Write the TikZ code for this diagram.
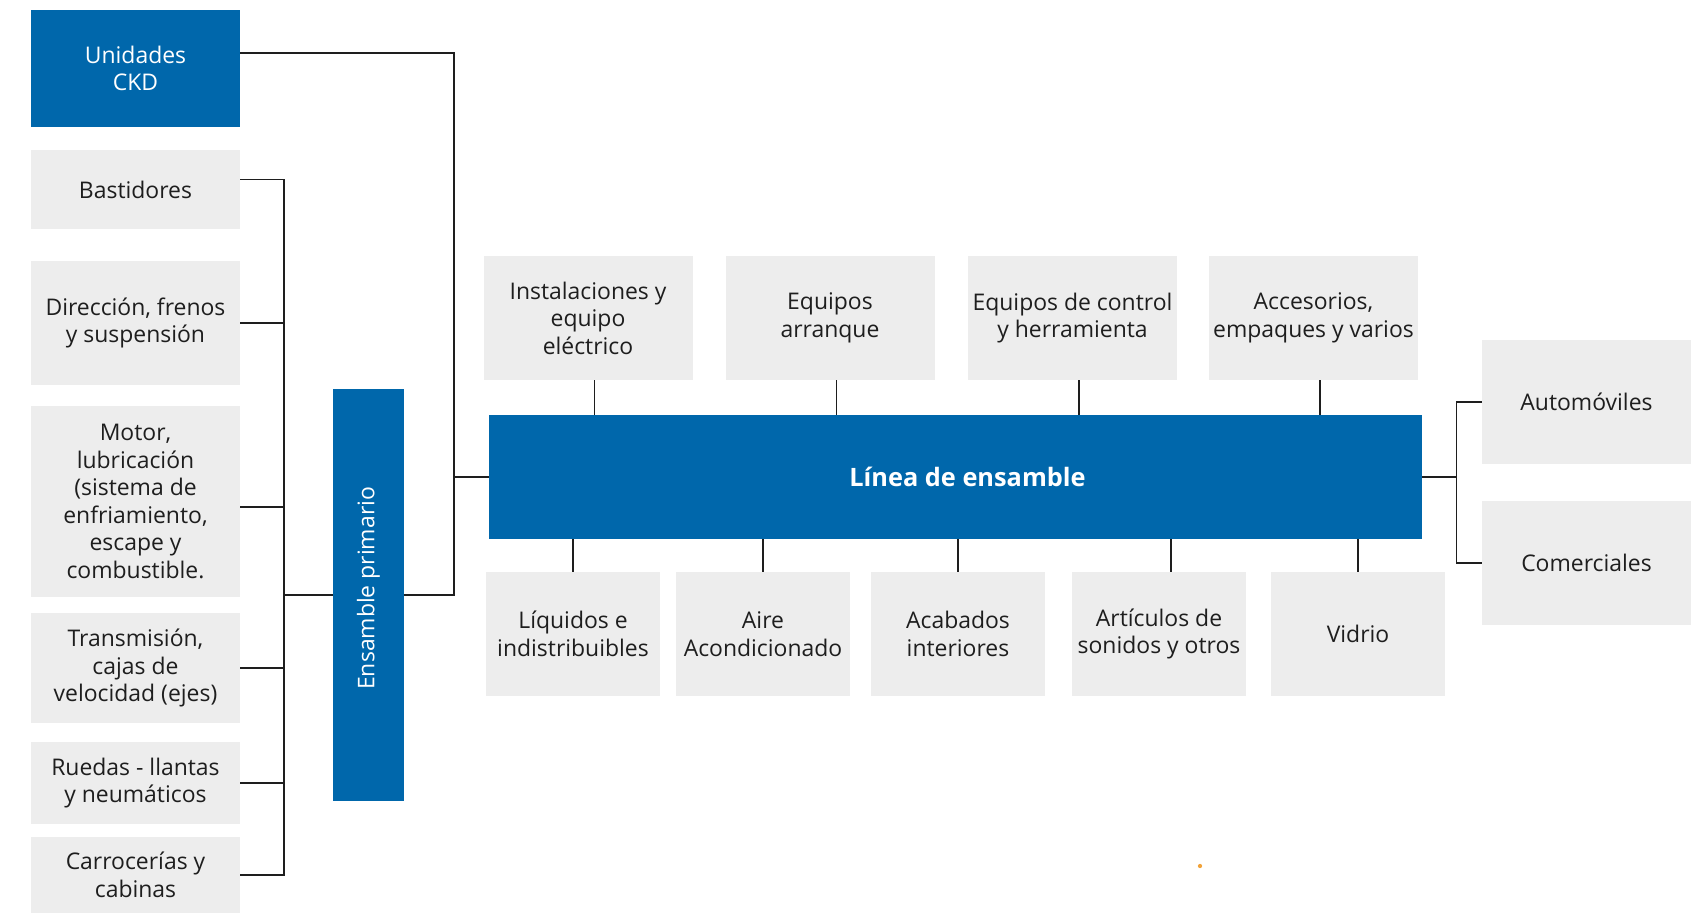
\documentclass[tikz,border=0pt]{standalone}
\usepackage{fontspec}
\setmainfont{Open Sans}
\definecolor{azul}{HTML}{0067AB}
\definecolor{gris}{HTML}{EDEDED}
\definecolor{tinta}{HTML}{1E1E1E}
\definecolor{naranja}{HTML}{F2A33A}
\tikzset{
  caja/.style={fill=gris, text=tinta, align=center, inner sep=0pt, minimum width=156.75pt, minimum height=93pt},
  cajab/.style={caja, minimum width=130.5pt},
  azulcaja/.style={caja, fill=azul, text=white},
  enlace/.style={draw=tinta, line width=1.4pt},
  enlacefino/.style={draw=tinta, line width=1.1pt}
}
\begin{document}
\begin{tikzpicture}[x=0.75pt, y=-0.75pt, font=\fontsize{17.2}{20.6}\selectfont]
  \useasboundingbox (0,0) rectangle (1699,914);
  % piezas de entrada
  \node[azulcaja, minimum height=87.75pt] (ckd) at (135.5,68.5) {Unidades\\CKD};
  \node[caja, minimum height=59.25pt] (bast) at (135.5,189.5) {Bastidores};
  \node[caja] (dir) at (135.5,323) {Dirección, frenos\\y suspensión};
  \node[caja, minimum height=143.25pt] (motor) at (135.5,501.5) {Motor,\\lubricación\\(sistema de\\enfriamiento,\\escape y\\combustible.};
  \node[caja, minimum height=82.5pt] (trans) at (135.5,668) {Transmisión,\\cajas de\\velocidad (ejes)};
  \node[caja, minimum height=61.5pt] (ruedas) at (135.5,783) {Ruedas - llantas\\y neumáticos};
  \node[caja, minimum height=57pt] (carro) at (135.5,875) {Carrocerías y\\cabinas};
  \node[azulcaja, rotate=90, minimum width=309pt, minimum height=53.25pt] (ens) at (368.5,595) {\hspace*{10pt}Ensamble primario};
  % linea central
  \node[azulcaja, minimum width=699.75pt, font=\fontsize{19}{22}\selectfont\bfseries] (linea) at (955.5,477) {\hspace*{18pt}Línea de ensamble};
  \node[caja] (inst) at (588,318) {Instalaciones y\\equipo\\eléctrico};
  \node[caja] (arr) at (830,318) {Equipos\\arranque};
  \node[caja] (ctrl) at (1072.5,318) {Equipos de control\\y herramienta};
  \node[caja] (acc) at (1313.5,318) {Accesorios,\\empaques y varios};
  \node[cajab] (liq) at (573,634) {Líquidos e\\indistribuibles};
  \node[cajab] (aire) at (763,634) {Aire\\Acondicionado};
  \node[cajab] (acab) at (958,634) {Acabados\\interiores};
  \node[cajab] (art) at (1159,634) {Artículos de\\sonidos y otros};
  \node[cajab] (vid) at (1358,634) {Vidrio};
  % salidas
  \node[caja] (auto) at (1586.5,402) {Automóviles};
  \node[caja] (com) at (1586.5,563) {Comerciales};
  % conexiones
  \draw[enlace] ([yshift=7.5pt]bast.east) -- ++(44,0) coordinate (b1) |- (carro.east);
  \foreach \p in {dir,trans,ruedas}
    \draw[enlace] (\p.east) -- (\p.east -| b1);
  \draw[enlace] ([yshift=-4.1pt]motor.east) -- ([yshift=-4.1pt]motor.east -| b1);
  \draw[enlace] (ens.north) -- (ens.north -| b1);
  \draw[enlace] (ens.south) -- ++(50,0) coordinate (b2) |- ([yshift=11.6pt]ckd.east);
  \draw[enlace] (linea.west) -- (linea.west -| b2);
  \foreach \p in {inst,arr,ctrl,acc}
    \draw[enlacefino] ([xshift=5pt]\p.south) -- ([xshift=5pt]\p.south |- linea.north);
  \foreach \p in {liq,aire,acab,vid}
    \draw[enlacefino] (\p.north) -- (\p.north |- linea.south);
  \draw[enlacefino] ([xshift=9pt]art.north) -- ([xshift=9pt]art.north |- linea.south);
  \draw[enlacefino] (linea.east) -- ++(34,0) coordinate (b3);
  \draw[enlacefino] (auto.west) -| (b3) |- (com.west);
  \fill[naranja] (1200,866) circle (1.6pt);
\end{tikzpicture}
\end{document}
